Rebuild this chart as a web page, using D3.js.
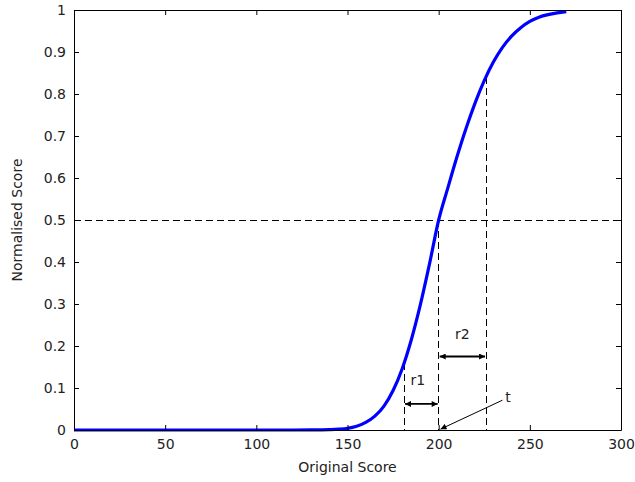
<!DOCTYPE html>
<html>
<head>
<meta charset="utf-8">
<script src="https://cdn.jsdelivr.net/npm/d3@7"></script>
<style>
  body { margin: 0; background: #fff; }
  text { font-family: "DejaVu Sans", sans-serif; fill: #222; }
</style>
</head>
<body>
<div id="chart"></div>
<script>
// curve
var scoreX = [0, 20, 40, 60, 80, 100, 120, 130, 140, 145, 150, 155, 160, 165, 170, 175, 180, 185, 190, 195, 200,
              205, 210, 215, 220, 225, 230, 235, 240, 245, 250, 255, 260, 265, 270];
var scoreY = [0, 0, 0, 0, 0, 0, 0, 0.0002, 0.001, 0.002, 0.004, 0.009, 0.018, 0.033, 0.057, 0.094, 0.146, 0.215, 0.299, 0.396, 0.5,
              0.576, 0.65, 0.718, 0.779, 0.832, 0.876, 0.911, 0.938, 0.958, 0.973, 0.983, 0.989, 0.993, 0.996];

var xTicks = [0, 50, 100, 150, 200, 250, 300];
var yTicks = [0, 0.1, 0.2, 0.3, 0.4, 0.5, 0.6, 0.7, 0.8, 0.9, 1];
var yTickLabels = ["0", "0.1", "0.2", "0.3", "0.4", "0.5", "0.6", "0.7", "0.8", "0.9", "1"];

// annotation positions
var t = 200, r1Left = 181, r2Right = 226;
var r1ArrowY = 0.062, r2ArrowY = 0.175;

var margin = {top: 10, right: 14, bottom: 52, left: 74},
    width = 635 - margin.left - margin.right,
    height = 482 - margin.top - margin.bottom;

var svg = d3.select("#chart")
  .append("svg")
    .attr("width", 635)
    .attr("height", 482)
  .append("g")
    .attr("transform", "translate(" + margin.left + "," + margin.top + ")");

var x = d3.scaleLinear().domain([0, 300]).range([0, width]);
var y = d3.scaleLinear().domain([0, 1]).range([height, 0]);

var defs = svg.append("defs");
defs.append("marker").attr("id", "head")
  .attr("viewBox", "0 0 10 10").attr("refX", 10).attr("refY", 5)
  .attr("markerWidth", 7).attr("markerHeight", 6).attr("markerUnits", "userSpaceOnUse")
  .attr("orient", "auto-start-reverse")
  .append("path").attr("d", "M0,0L10,5L0,10z").attr("fill", "#000");

// curve lookup for dashed verticals
var curveAt = function(v) {
  var i = scoreX.indexOf(v);
  if (i >= 0) return scoreY[i];
  var b = d3.bisectLeft(scoreX, v);
  var f = (v - scoreX[b - 1]) / (scoreX[b] - scoreX[b - 1]);
  return scoreY[b - 1] + f * (scoreY[b] - scoreY[b - 1]);
};

// dashed guides
var dash = "7,4";
svg.append("line")
  .attr("x1", x(0)).attr("x2", x(300)).attr("y1", y(0.5)).attr("y2", y(0.5))
  .attr("stroke", "#000").attr("stroke-dasharray", dash)
  .attr("shape-rendering", "crispEdges");
[t, r1Left, r2Right].forEach(function(v) {
  svg.append("line")
    .attr("x1", x(v)).attr("x2", x(v)).attr("y1", y(curveAt(v))).attr("y2", y(0))
    .attr("stroke", "#000").attr("stroke-dasharray", dash)
    .attr("shape-rendering", "crispEdges");
});

// curve
var line = d3.line()
  .x(function(d, i) { return x(scoreX[i]); })
  .y(function(d) { return y(d); })
  .curve(d3.curveMonotoneX);
svg.append("path")
  .datum(scoreY)
  .attr("d", line)
  .attr("fill", "none")
  .attr("stroke", "#0000ff")
  .attr("stroke-width", 3.2);

// double arrows r1 / r2
[[r1Left, t, r1ArrowY], [t, r2Right, r2ArrowY]].forEach(function(a) {
  svg.append("line")
    .attr("x1", x(a[0]) + 1).attr("x2", x(a[1]) - 1)
    .attr("y1", y(a[2])).attr("y2", y(a[2]))
    .attr("stroke", "#000").attr("stroke-width", 1.8)
    .attr("marker-start", "url(#head)").attr("marker-end", "url(#head)");
});
svg.append("text").attr("x", x(184.5)).attr("y", y(0.12)).attr("dy", "0.35em")
  .style("font-size", "14px").text("r1");
svg.append("text").attr("x", x(209)).attr("y", y(0.229)).attr("dy", "0.35em")
  .style("font-size", "14px").text("r2");

// t arrow
svg.append("line")
  .attr("x1", x(235)).attr("y1", y(0.071))
  .attr("x2", x(201)).attr("y2", y(0.002))
  .attr("stroke", "#000").attr("stroke-width", 1)
  .attr("marker-end", "url(#head)");
svg.append("text").attr("x", x(236.5)).attr("y", y(0.079)).attr("dy", "0.35em")
  .style("font-size", "14px").text("t");

// axes, MATLAB box with inward ticks
var xAxis = svg.append("g").attr("transform", "translate(0," + height + ")")
  .call(d3.axisBottom(x).tickValues(xTicks).tickSizeInner(-5).tickSizeOuter(0).tickPadding(9));
var xTop = svg.append("g")
  .call(d3.axisTop(x).tickValues(xTicks).tickSizeInner(-5).tickSizeOuter(0).tickFormat(""));
var yAxis = svg.append("g")
  .call(d3.axisLeft(y).tickValues(yTicks).tickSizeInner(-5).tickSizeOuter(0).tickPadding(8)
    .tickFormat(function(d, i) { return yTickLabels[i]; }));
var yRight = svg.append("g").attr("transform", "translate(" + width + ",0)")
  .call(d3.axisRight(y).tickValues(yTicks).tickSizeInner(-5).tickSizeOuter(0).tickFormat(""));

[xAxis, xTop, yAxis, yRight].forEach(function(g) {
  g.selectAll("path").attr("stroke", "#000");
  g.selectAll("line").attr("stroke", "#000");
  g.selectAll("text").style("font-size", "14px").style("font-family", "DejaVu Sans, sans-serif").attr("fill", "#222");
});

svg.append("text")
  .attr("x", width / 2).attr("y", height + 42)
  .attr("text-anchor", "middle").style("font-size", "14px")
  .text("Original Score");
svg.append("text")
  .attr("transform", "translate(" + (-52) + "," + (height / 2) + ") rotate(-90)")
  .attr("text-anchor", "middle").style("font-size", "14px")
  .text("Normalised Score");
</script>
</body>
</html>
